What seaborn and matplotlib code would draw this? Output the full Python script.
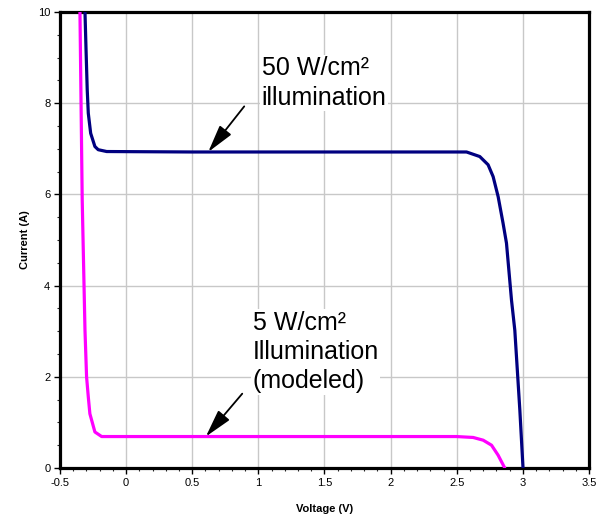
import matplotlib
matplotlib.use("Agg")
import matplotlib.pyplot as plt
from matplotlib.ticker import MultipleLocator
import seaborn as sns
import pandas as pd

# Data
v_50 = [-0.311, -0.303, -0.294, -0.286, -0.268, -0.236, -0.211, -0.147, 0.5, 1.5,
        2.574, 2.674, 2.737, 2.775, 2.813, 2.850, 2.876, 2.914, 2.939, 2.977, 3.001]
i_50 = [10.0, 9.17, 8.29, 7.78, 7.34, 7.05, 6.98, 6.94, 6.93, 6.93,
        6.93, 6.83, 6.65, 6.39, 5.95, 5.37, 4.93, 3.68, 3.02, 1.27, 0.0]

v_5 = [-0.349, -0.332, -0.311, -0.299, -0.286, -0.274, -0.236, -0.185,
       2.498, 2.624, 2.700, 2.763, 2.813, 2.863]
i_5 = [10.0, 5.88, 3.02, 2.0, 1.56, 1.19, 0.79, 0.69,
       0.69, 0.67, 0.61, 0.50, 0.28, 0.0]

x_ticks = [-0.5, 0, 0.5, 1, 1.5, 2, 2.5, 3, 3.5]
x_tick_labels = ["-0.5", "0", "0.5", "1", "1.5", "2", "2.5", "3", "3.5"]
y_ticks = [0, 2, 4, 6, 8, 10]
y_tick_labels = ["0", "2", "4", "6", "8", "10"]

label_50 = "50 W/cm\u00b2\nillumination"
label_5 = "5 W/cm\u00b2\nIllumination\n(modeled)"

sns.set_style("white")
plt.rcParams['font.family'] = ['Liberation Sans', 'DejaVu Sans']
plt.rcParams['text.color'] = 'black'
plt.rcParams['axes.labelcolor'] = 'black'

df50 = pd.DataFrame({"V": v_50, "I": i_50})
df5 = pd.DataFrame({"V": v_5, "I": i_5})

fig = plt.figure(figsize=(6.14, 5.21), dpi=100)
ax = fig.add_axes([0.0977, 0.1017, 0.8616, 0.8753])

ax.set_axisbelow(True)
ax.grid(True, which="major", color="#c8c8c8", lw=1.0)

sns.lineplot(data=df5, x="V", y="I", ax=ax, color="#FF00FF", lw=2.3,
             sort=False, estimator=None, zorder=3)
sns.lineplot(data=df50, x="V", y="I", ax=ax, color="#000080", lw=2.3,
             sort=False, estimator=None, zorder=3)

ax.set_xlim(-0.5, 3.5)
ax.set_ylim(0, 10)
ax.set_xticks(x_ticks)
ax.set_xticklabels(x_tick_labels)
ax.set_yticks(y_ticks)
ax.set_yticklabels(y_tick_labels)
ax.xaxis.set_minor_locator(MultipleLocator(0.1))
ax.yaxis.set_minor_locator(MultipleLocator(0.5))
ax.tick_params(which="major", direction="out", length=4, width=1, labelsize=8,
               colors="black", bottom=True, left=True, pad=3)
ax.tick_params(which="minor", direction="out", length=2.5, width=0.8,
               bottom=True, left=True)
for s in ax.spines.values():
    s.set_color("black")
    s.set_linewidth(2.3)

ax.set_xlabel("Voltage (V)", fontsize=8, fontweight="bold", labelpad=12, color="black")
ax.set_ylabel("Current (A)", fontsize=8, fontweight="bold", labelpad=6, color="black")

bbox = dict(facecolor="white", edgecolor="none", pad=1)
ax.text(1.024, 7.97, label_50, fontsize=18, ha="left", va="baseline", color="black",
        linespacing=1.28, bbox=bbox, zorder=4)
ax.text(0.957, 1.75, label_5, fontsize=18, ha="left", va="baseline", color="black",
        linespacing=1.28, bbox=bbox, zorder=4)

arrow = dict(arrowstyle="-|>,head_length=1.7,head_width=0.45", color="black",
             lw=1.3, mutation_scale=10, shrinkA=0, shrinkB=0)
ax.annotate("", xy=(0.621, 6.93), xytext=(0.893, 7.93), arrowprops=arrow, zorder=5)
ax.annotate("", xy=(0.603, 0.69), xytext=(0.878, 1.63), arrowprops=arrow, zorder=5)

fig.savefig("out.png", dpi=100)
